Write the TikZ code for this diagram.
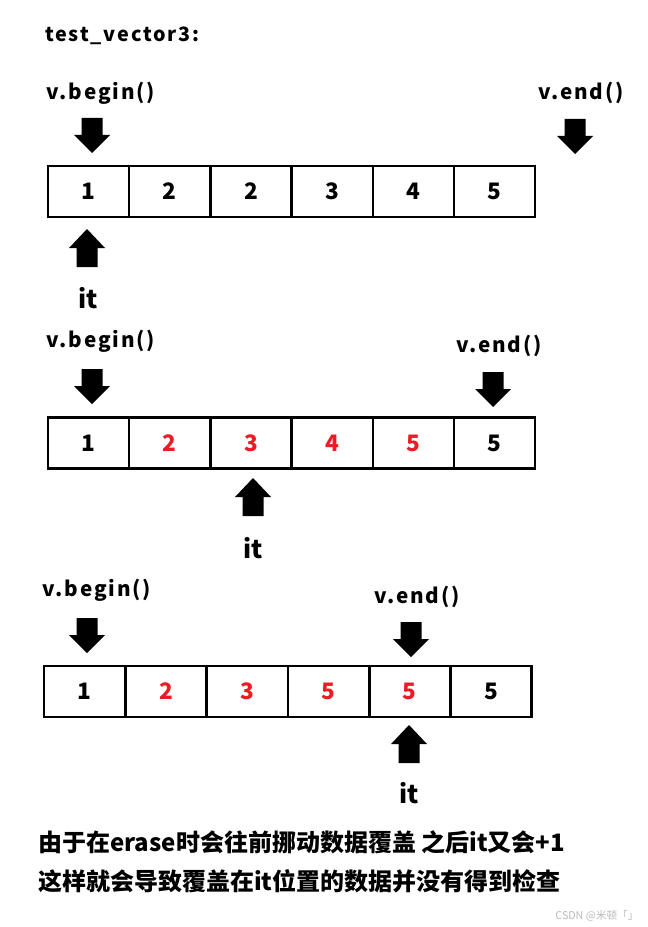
\documentclass[tikz,border=0pt]{standalone}
\usepackage{fontspec}
\setmainfont{Noto Sans CJK SC}
\newfontfamily\widefont{Noto Sans CJK SC}[LetterSpace=9]
\usepackage{tikz}
\usetikzlibrary{positioning}

\definecolor{numred}{RGB}{237,28,36}
\definecolor{markgray}{RGB}{185,185,185}

\tikzset{
  cell/.style={draw, line width=1.9pt, minimum width=60.9pt, minimum height=38.3pt,
    inner sep=0pt, font=\bfseries\fontsize{17}{20}\selectfont},
  ptr/.style={inner sep=0pt, font=\widefont\bfseries\fontsize{15.5}{18}\selectfont},
  itlabel/.style={inner sep=0pt, font=\bfseries\fontsize{19}{22}\selectfont},
  note/.style={anchor=west, inner sep=0pt, font=\bfseries\fontsize{18}{22}\selectfont},
  downarrow/.pic={\fill (-10.5,0) -- (10.5,0) -- (10.5,17) -- (18,17) -- (0,35)
    -- (-18,17) -- (-10.5,17) -- cycle;},
  uparrow/.pic={\fill (0,0) -- (18,19) -- (10.5,19) -- (10.5,38) -- (-10.5,38)
    -- (-10.5,19) -- (-18,19) -- cycle;}
}

\begin{document}
\begin{tikzpicture}[x=0.75pt, y=-0.75pt]
    \useasboundingbox (0,0) rectangle (648,927);

    \node[ptr, anchor=west, font=\widefont\bfseries\fontsize{14.8}{18}\selectfont] (title) at (45,36) {test\_vector3:};

    % first row
    \foreach \i/\val/\col in {1/1/black, 2/2/black, 3/2/black, 4/3/black, 5/4/black, 6/5/black}{
        \node[cell, text=\col] (a\i) at ({48+81.2*(\i-0.5)},191.5) {\val};
    }
    \node[ptr] (abegin) at (101,93) {v.begin()};
    \node[ptr] (aend) at (581,93) {v.end()};
    \pic at (92,118) {downarrow};
    \pic at (575,119) {downarrow};
    \pic at (87,229) {uparrow};
    \node[itlabel] (ait) at (88,298) {it};

    % second row
    \foreach \i/\val/\col in {1/1/black, 2/2/numred, 3/3/numred, 4/4/numred, 5/5/numred, 6/5/black}{
        \node[cell, text=\col] (b\i) at ({48+81.2*(\i-0.5)},443) {\val};
    }
    \node[ptr] (bbegin) at (101,341) {v.begin()};
    \node[ptr] (bend) at (499,346) {v.end()};
    \pic at (92,369) {downarrow};
    \pic at (493,372) {downarrow};
    \pic at (253,478) {uparrow};
    \node[itlabel] (bit) at (253,548) {it};

    % third row
    \foreach \i/\val/\col in {1/1/black, 2/2/numred, 3/3/numred, 4/5/numred, 5/5/numred, 6/5/black}{
        \node[cell, text=\col] (c\i) at ({44+81.3*(\i-0.5)},691.5) {\val};
    }
    \node[ptr] (cbegin) at (97,590) {v.begin()};
    \node[ptr] (cend) at (417,597) {v.end()};
    \pic at (87,618) {downarrow};
    \pic at (411,622) {downarrow};
    \pic at (409,725) {uparrow};
    \node[itlabel] (cit) at (409,793) {it};

    \node[note] (line1) at (38,842) {由于在erase时会往前挪动数据覆盖 之后it又会+1};
    \node[note] (line2) at (38,881) {这样就会导致覆盖在it位置的数据并没有得到检查};

    \node[inner sep=0pt, text=markgray, font=\fontsize{8}{10}\selectfont] (mark) at (597,916) {CSDN @米顿「」};
\end{tikzpicture}
\end{document}
